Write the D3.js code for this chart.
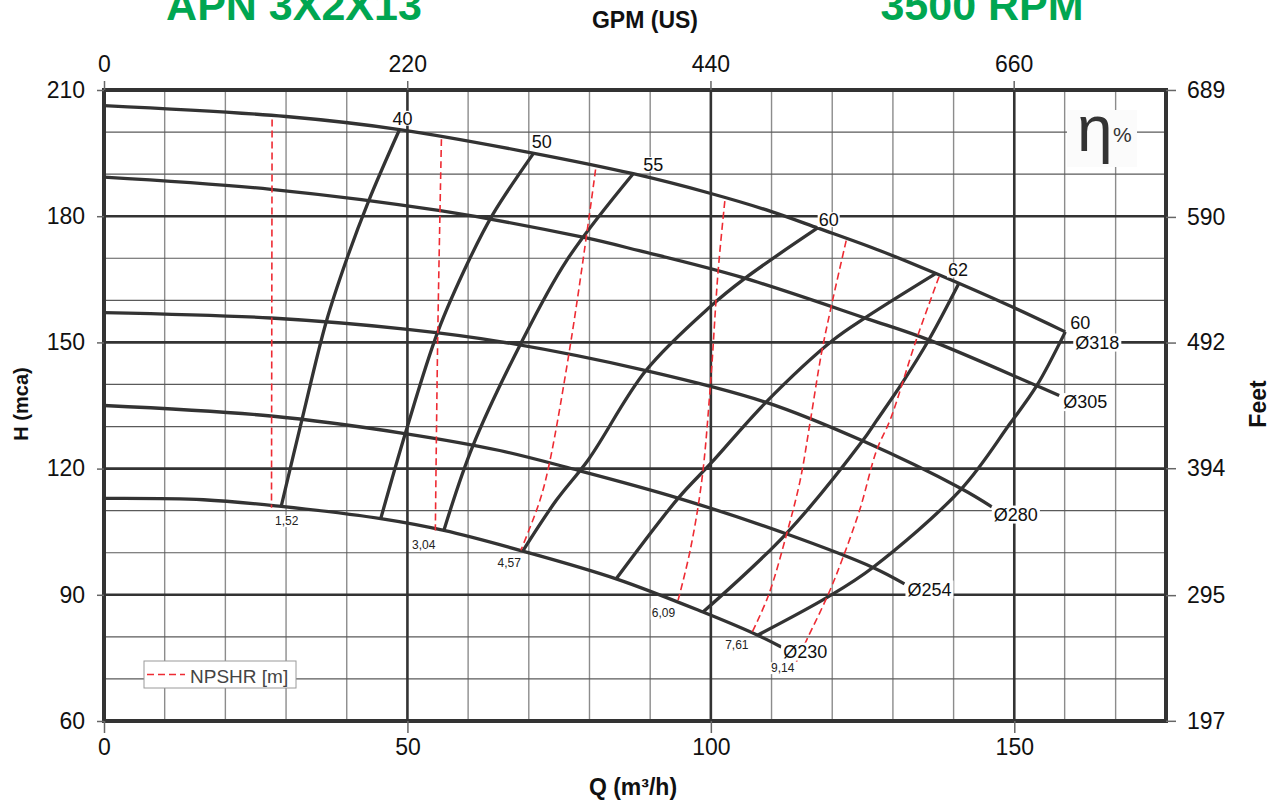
<!DOCTYPE html>
<html>
<head>
<meta charset="utf-8">
<script src="https://cdn.jsdelivr.net/npm/d3@7"></script>
<style>
  html, body { margin: 0; padding: 0; background: #fff; }
  svg { display: block; font-family: "Liberation Sans", Arial, Helvetica, sans-serif; }
</style>
</head>
<body>
<svg id="chart" width="1278" height="801"></svg>
<script>
// ---- Axis ticks -------------------------------------------------------
const qTicks    = [0, 50, 100, 150];                       // Q (m³/h)
const qMinor    = [10, 20, 30, 40, 60, 70, 80, 90, 110, 120, 130, 140, 158.3, 166.7];
const hTicks    = [60, 90, 120, 150, 180, 210];            // H (m)
const hMinor    = [70, 80, 100, 110, 130, 140, 160, 170, 190, 200];
const gpmTicks  = [0, 220, 440, 660];                      // GPM (US)
const feetTicks = [197, 295, 394, 492, 590, 689];          // Feet

// ---- Head curves per impeller diameter, [Q m³/h, H m] ------------------
const diameterNames = ["Ø318", "Ø305", "Ø280", "Ø254", "Ø230"];
const head318 = [[0,206.3],[30,203.7],[48.7,200.6],[70,195.2],[87.2,190.1],[100,185.4],[110,181.1],[117.8,177.1],[127.9,171.8],[137.2,166.3],[149.7,158.4],[158.4,152.5]];
const head305 = [[0,189.3],[27.5,186.4],[55.4,181.3],[78.9,175],[88.2,171.8],[105,165.5],[125.8,155.6],[135.9,150.6],[153.7,139.7],[157.4,137.4]];
const head280 = [[0,157.1],[27.5,155.8],[50,153.1],[65.2,150.2],[89.3,143.3],[109,135.8],[125,126.6],[141.3,115.2],[146.3,110.9]];
const head254 = [[0,135],[27.5,132.5],[49.3,128.4],[65.2,124.3],[77.3,119.9],[94.6,113],[112.4,104.5],[126.7,96.5],[131.9,92.6]];
const head230 = [[0,112.9],[16.4,112.6],[29.2,111],[45.6,108.1],[56,105.3],[69,100.4],[84.4,93.8],[98.7,85.9],[107.7,80.4],[111.6,77.6]];
const headCurves = [head318, head305, head280, head254, head230];

// ---- Iso-efficiency lines (%), listed from top end to bottom end -------
const eff40  = [[48.7,200.6],[43.6,183.6],[39.9,169.4],[36.6,154.8],[32.6,131.5],[29.2,111]];
const eff50  = [[70.8,195],[64.1,180.5],[60.1,169.4],[55,152.5],[49.7,128.6],[45.6,108.1]];
const eff55  = [[87.2,190.1],[76.2,169.4],[68.5,149.2],[60.7,125.1],[56,105.3]];
const eff60L = [[117.6,177.2],[105.5,165.1],[99.9,158.5],[89.3,143.3],[79.9,122.3],[74.5,112.4],[69,100.4]];
const eff62L = [[137.1,166.4],[125.6,156],[120.1,150.5],[109.1,135.8],[99.9,121.1],[94.7,113.1],[84.4,93.8]];
const eff62R = [[140.9,164.1],[136,150.8],[131.6,140.5],[127.3,131.4],[125,126.6],[112.4,104.5],[98.7,85.9]];
const eff60R = [[158.4,152.5],[153.7,139.7],[149.3,130.7],[141.3,115.2],[126.7,96.5],[119.3,89.5],[107.7,80.4]];
const effLines  = [eff40, eff50, eff55, eff60L, eff62L, eff62R, eff60R];
const effValues = [40, 50, 55, 60, 62, 62, 60];

// ---- NPSHR lines (m) -------------------------------------------------
const npshValues = [1.52, 3.04, 4.57, 6.09, 7.61, 9.14];
const npsh1 = [[27.7,203],[27.6,110.7]];
const npsh2 = [[55.6,198.3],[55,152],[54.6,105.3]];
const npsh3 = [[81.0,191.1],[80.3,183.6],[77,150.8],[73.4,121.3],[71.8,112.3],[68.7,100.6]];
const npsh4 = [[102.3,183.6],[101.2,167],[99.9,139.3],[98.5,117.1],[96.6,100.6],[94.6,88.7]];
const npsh5 = [[122.3,174.2],[119.8,158.3],[118.2,147.2],[116.4,131.4],[114.7,117.1],[112.5,104.5],[109.5,89.9],[106.7,80.8]];
const npsh6 = [[137.6,165.6],[133.8,150.4],[129.6,131.8],[127.3,124.3],[124.6,110.5],[121.8,99],[119.4,90.3],[115.8,79.3],[114.1,74.1]];
const npshLines = [npsh1, npsh2, npsh3, npsh4, npsh5, npsh6];

// ---- Scales ----------------------------------------------------------
const M3H_TO_GPM = 4.40287, M_TO_FT = 3.28084;
const x = d3.scaleLinear().domain([0, 175]).range([104, 1166]);
const y = d3.scaleLinear().domain([60, 210]).range([721, 90]);
const xGpm = d3.scaleLinear().domain(x.domain().map(d => d * M3H_TO_GPM)).range(x.range());
const yFt  = d3.scaleLinear().domain(y.domain().map(d => d * M_TO_FT)).range(y.range());

const svg = d3.select("#chart");
const [x0, x1] = x.range();
const [y0, y1] = [y(210), y(60)];

const curveLine = d3.line()
  .x(d => x(d[0])).y(d => y(d[1]))
  .curve(d3.curveCatmullRom.alpha(0.5));

// ---- Grid --------------------------------------------------------------
const grid = svg.append("g");
grid.selectAll("line.qmin").data(qMinor).join("line").attr("class", "qmin")
  .attr("x1", d => x(d)).attr("x2", d => x(d)).attr("y1", y0).attr("y2", y1)
  .attr("stroke", "#8c8c8c").attr("stroke-width", 1.4);
grid.selectAll("line.hmin").data(hMinor).join("line").attr("class", "hmin")
  .attr("x1", x0).attr("x2", x1).attr("y1", d => y(d)).attr("y2", d => y(d))
  .attr("stroke", "#5a5a5a").attr("stroke-width", 1.2);
grid.selectAll("line.qmaj").data(qTicks.filter(d => d > 0)).join("line").attr("class", "qmaj")
  .attr("x1", d => x(d)).attr("x2", d => x(d)).attr("y1", y0).attr("y2", y1)
  .attr("stroke", "#333").attr("stroke-width", 2.6);
grid.selectAll("line.hmaj").data(hTicks.filter(d => d > 60 && d < 210)).join("line").attr("class", "hmaj")
  .attr("x1", x0).attr("x2", x1).attr("y1", d => y(d)).attr("y2", d => y(d))
  .attr("stroke", "#333").attr("stroke-width", 2.6);

// ---- Curves ------------------------------------------------------------
const curves = svg.append("g").attr("fill", "none").attr("stroke", "#333")
  .attr("stroke-width", 3.3).attr("stroke-linejoin", "round");
curves.selectAll("path.head").data(headCurves).join("path").attr("class", "head").attr("d", curveLine);
curves.selectAll("path.eff").data(effLines).join("path").attr("class", "eff").attr("d", curveLine);

svg.append("g").attr("fill", "none").attr("stroke", "#ee2b33")
  .attr("stroke-width", 1.6).attr("stroke-dasharray", "7,4")
  .selectAll("path").data(npshLines).join("path").attr("d", curveLine);

// ---- Labels with white backing ---------------------------------------
function boxedText(parent, str, px, py, anchor, size, o) {
  const gg = parent.append("g");
  const t = gg.append("text").attr("x", px).attr("y", py)
    .attr("text-anchor", anchor).attr("font-size", size)
    .attr("fill", o.fill || "#111").text(str);
  const bb = t.node().getBBox();
  gg.insert("rect", "text")
    .attr("x", bb.x - o.padX).attr("y", py - size * o.top)
    .attr("width", bb.width + 2 * o.padX).attr("height", size * (o.top + o.bot))
    .attr("fill", o.bg || "#fff");
  return gg;
}
const labels = svg.append("g");

// Efficiency values at the top end of each line
const effOffsets = [[-7,-5],[-2,-5],[10,-3],[1,-2],[12,3],null,[5,-3]];
effLines.forEach((pts, i) => {
  const off = effOffsets[i];
  if (!off) return;
  const p = pts[0];
  boxedText(labels, String(effValues[i]), x(p[0]) + off[0], y(p[1]) + off[1], "start", 18,
    { padX: 1, top: 0.76, bot: 0.06 });
});

// Diameter names at the end of each head curve
const diaOffsets = [[10,17],[4,13],[2,14],[3,12],[2,11]];
headCurves.forEach((pts, i) => {
  const p = pts[pts.length - 1], off = diaOffsets[i];
  boxedText(labels, diameterNames[i], x(p[0]) + off[0], y(p[1]) + off[1], "start", 18,
    { padX: 2, top: 0.85, bot: 0.15 });
});

// NPSHR values at the lower end of each dashed line
const fmtNpsh = d => d3.format(".2f")(d).replace(".", ",");
const npshOffsets = [[3.5,17,"start"],[0,18.5,"end"],[0,17,"end"],[-3,17,"end"],[-3,15,"end"],[-2,10,"end"]];
npshLines.forEach((pts, i) => {
  const p = pts[pts.length - 1], off = npshOffsets[i];
  boxedText(labels, fmtNpsh(npshValues[i]), x(p[0]) + off[0], y(p[1]) + off[1], off[2], 12,
    { padX: 1, top: 0.78, bot: 0.2, fill: "#222" });
});

// ---- Efficiency symbol -------------------------------------------------
const eta = svg.append("g");
eta.append("rect").attr("x", x1 - 99).attr("y", y0 + 20).attr("width", 70).attr("height", 57).attr("fill", "#fbfbfb");
eta.append("text").attr("x", x1 - 89).attr("y", y0 + 61).attr("font-size", 64).attr("fill", "#333").text("η");
eta.append("text").attr("x", x1 - 53).attr("y", y0 + 52).attr("font-size", 21).attr("fill", "#333").text("%");

// ---- Legend ------------------------------------------------------------
const leg = svg.append("g").attr("transform", `translate(${x0 + 40},${y1 - 60})`);
leg.append("rect").attr("x", 0).attr("y", 0).attr("width", 152).attr("height", 27)
  .attr("fill", "#fff").attr("stroke", "#9a9a9a").attr("stroke-width", 1);
leg.append("line").attr("x1", 3).attr("x2", 41).attr("y1", 13.5).attr("y2", 13.5)
  .attr("stroke", "#ee2b33").attr("stroke-width", 1.6).attr("stroke-dasharray", "7,4");
leg.append("text").attr("x", 46).attr("y", 21.5).attr("font-size", 19).attr("fill", "#444").text("NPSHR [m]");

// ---- Frame -------------------------------------------------------------
svg.append("rect").attr("x", x0).attr("y", y0).attr("width", x1 - x0).attr("height", y1 - y0)
  .attr("fill", "none").attr("stroke", "#333").attr("stroke-width", 4);

// ---- Axes --------------------------------------------------------------
function styleAxis(sel) {
  sel.attr("font-size", null).attr("font-family", null);
  sel.select(".domain").remove();
  sel.selectAll(".tick line").attr("stroke", "#666").attr("stroke-width", 1.5);
  sel.selectAll(".tick text").attr("font-size", 23).attr("fill", "#111");
}
svg.append("g").attr("transform", `translate(${x0},0)`)
  .call(d3.axisLeft(y).tickValues(hTicks).tickSize(7).tickPadding(12)).call(styleAxis);
svg.append("g").attr("transform", `translate(0,${y1})`)
  .call(d3.axisBottom(x).tickValues(qTicks).tickSize(12).tickPadding(6)).call(styleAxis);
svg.append("g").attr("transform", `translate(0,${y0})`)
  .call(d3.axisTop(xGpm).tickValues(gpmTicks).tickSize(9).tickPadding(9)).call(styleAxis);
svg.append("g").attr("transform", `translate(${x1},0)`)
  .call(d3.axisRight(yFt).tickValues(feetTicks).tickSize(10).tickPadding(11)).call(styleAxis);

// ---- Titles ------------------------------------------------------------
const titles = svg.append("g").attr("font-weight", "bold");
titles.append("text").attr("x", 294).attr("y", 20).attr("text-anchor", "middle")
  .attr("font-size", 43).attr("fill", "#00a651").text("APN 3X2X13");
titles.append("text").attr("x", 982).attr("y", 20).attr("text-anchor", "middle")
  .attr("font-size", 43).attr("fill", "#00a651").text("3500 RPM");
titles.append("text").attr("x", 645).attr("y", 28).attr("text-anchor", "middle")
  .attr("font-size", 23).attr("fill", "#111").text("GPM (US)");
titles.append("text").attr("x", 633).attr("y", 795).attr("text-anchor", "middle")
  .attr("font-size", 23).attr("fill", "#111").text("Q (m³/h)");
titles.append("text").attr("transform", "translate(28,404) rotate(-90)").attr("text-anchor", "middle")
  .attr("font-size", 20).attr("fill", "#111").text("H (mca)");
titles.append("text").attr("transform", "translate(1266,404) rotate(-90)").attr("text-anchor", "middle")
  .attr("font-size", 23).attr("fill", "#111").text("Feet");
</script>
</body>
</html>
